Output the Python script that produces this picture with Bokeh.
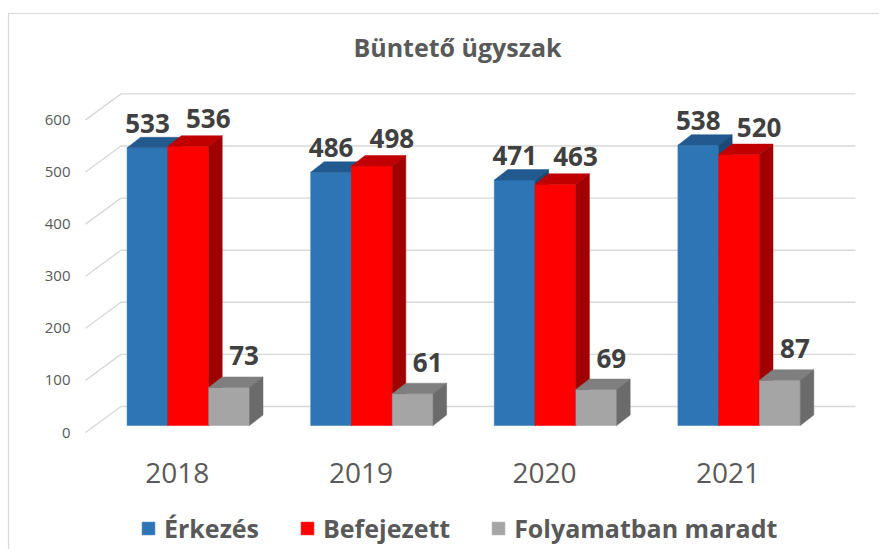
import numpy as np
from bokeh.plotting import figure
from bokeh.models import Range1d, Legend, LegendItem
from bokeh.core.properties import value
from bokeh.embed import file_html
from bokeh.resources import INLINE

# ---------------- data ----------------
title_text = "Büntető ügyszak"
years = ["2018", "2019", "2020", "2021"]
series_names = ["Érkezés", "Befejezett", "Folyamatban maradt"]
erkezes = [533, 486, 471, 538]
befejezett = [536, 498, 463, 520]
folyamatban = [73, 61, 69, 87]
y_ticks = [0, 100, 200, 300, 400, 500, 600]

# ---------------- styles ----------------
front_colors = ["#2E75B6", "#FF0000", "#A5A5A5"]
top_colors = ["#225A8F", "#C00000", "#7F7F7F"]
side_colors = ["#1B4A78", "#A00000", "#6B6B6B"]
grid_color = "#D9D9D9"
text_color = "#595959"
label_color = "#404040"
FONT = "Open Sans"

# ---------------- layout (pixels) ----------------
W, H = 879, 549
PAGE_OFF = 0
PX_PER_GROUP = 183.6
PX_PER_UNIT = 0.521
GROUP0_PAGE_X = 187.8
ZERO_PAGE_Y = 425.0

x_start = -(GROUP0_PAGE_X - PAGE_OFF) / PX_PER_GROUP
x_end = x_start + W / PX_PER_GROUP
y_end = (ZERO_PAGE_Y - PAGE_OFF) / PX_PER_UNIT
y_start = y_end - H / PX_PER_UNIT


def dx(px):
    return px / PX_PER_GROUP


def dy(px):
    return px / PX_PER_UNIT


def x_at(page_x):
    return x_start + (page_x - PAGE_OFF) / PX_PER_GROUP


def y_at(page_y):
    return (ZERO_PAGE_Y - page_y) / PX_PER_UNIT


bar_w = dx(40.8)
depth_x = dx(13.5)
depth_y = dy(10.5)

p = figure(width=W, height=H, output_backend="svg", toolbar_location=None,
           x_range=Range1d(x_start, x_end), y_range=Range1d(y_start, y_end),
           min_border=0, x_axis_location=None, y_axis_location=None)
p.grid.visible = False
p.outline_line_color = None
p.background_fill_color = "white"
p.border_fill_color = "white"

# outer chart border
p.quad(left=[x_at(8)], right=[x_at(950)], top=[y_at(13)], bottom=[y_at(620)],
       fill_color=None, line_color=grid_color, line_width=1.2)

# title
p.text(x=[x_at(457)], y=[y_at(46)], text=[title_text], text_font=value(FONT),
       text_font_style="bold", text_font_size="25px", text_color=text_color,
       text_align="center", text_baseline="middle")

# walls / gridlines
xL, xB, xR = x_at(85), x_at(120.5), x_at(855)
front_off = dy(7)
back_off = dy(19)
diag_xs, diag_ys = [], []
for v in y_ticks:
    diag_xs.append([xL, xB, xR])
    diag_ys.append([v - front_off, v + back_off, v + back_off])
p.multi_line(xs=diag_xs, ys=diag_ys, line_color=grid_color, line_width=1.4)

# y tick labels
p.text(x=[x_at(70)] * len(y_ticks), y=[v - front_off for v in y_ticks],
       text=[str(v) for v in y_ticks], text_font=value(FONT), text_font_size="15px",
       text_color=text_color, text_align="right", text_baseline="middle")

# category labels
grp = np.arange(len(years))
p.text(x=grp + dx(-11), y=[y_at(472)] * len(years), text=years, text_font=value(FONT),
       text_font_size="28px", text_color=text_color, text_align="center",
       text_baseline="middle")

# bars
all_series = [erkezes, befejezett, folyamatban]
label_dx = [dx(0), dx(20), dx(15)]
label_gap = [dy(14), dy(17), dy(21)]
front_renderers = []
for s, vals in enumerate(all_series):
    vals = np.array(vals, dtype=float)
    xc = grp + (s - 1) * bar_w
    x0 = xc - bar_w / 2
    x1 = xc + bar_w / 2
    r = p.vbar(x=xc, top=vals, bottom=0, width=bar_w, fill_color=front_colors[s],
               line_color=front_colors[s], line_width=0.5)
    front_renderers.append(r)
    top_xs = [[a, b, b + depth_x, a + depth_x] for a, b in zip(x0, x1)]
    top_ys = [[t, t, t + depth_y, t + depth_y] for t in vals]
    p.patches(xs=top_xs, ys=top_ys, fill_color=top_colors[s], line_color=top_colors[s],
              line_width=0.5)
    side_xs = [[b, b, b + depth_x, b + depth_x] for b in x1]
    side_ys = [[0, t, t + depth_y, depth_y] for t in vals]
    p.patches(xs=side_xs, ys=side_ys, fill_color=side_colors[s], line_color=side_colors[s],
              line_width=0.5)
    p.text(x=xc + label_dx[s], y=vals + depth_y + label_gap[s],
           text=[str(int(v)) for v in vals], text_font=value(FONT),
           text_font_style="bold", text_font_size="26px", text_color=label_color,
           text_align="center", text_baseline="alphabetic")

legend = Legend(items=[LegendItem(label=n, renderers=[r]) for n, r in zip(series_names, front_renderers)],
                orientation="horizontal", location=(140, 4),
                glyph_width=16, glyph_height=16, label_standoff=8, spacing=40,
                padding=0, margin=0, border_line_color=None, background_fill_alpha=0,
                label_text_font=FONT, label_text_font_style="bold",
                label_text_font_size="25px", label_text_color=text_color)
p.add_layout(legend)

open("out.html", "w").write(file_html(p, INLINE))
